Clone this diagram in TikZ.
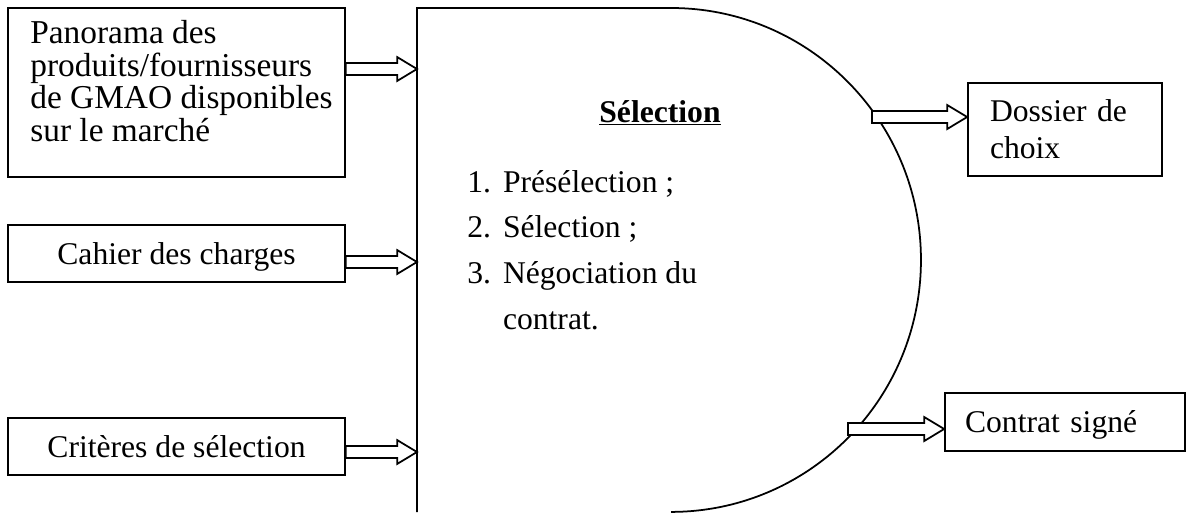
\documentclass[tikz,border=0pt]{standalone}
\usepackage{fontspec}
\setmainfont{Liberation Serif}
\usetikzlibrary{calc}

% hollow block arrow from the first point to the second (horizontal)
\newcommand{\blockarrow}[2]{%
  \draw[blk] let \p1=(#1), \p2=(#2) in
    (\x1,\y1+3.4pt) -- (\x2-11.3pt,\y1+3.4pt) -- (\x2-11.3pt,\y1+6.8pt) -- (\x2,\y1)
    -- (\x2-11.3pt,\y1-6.8pt) -- (\x2-11.3pt,\y1-3.4pt) -- (\x1,\y1-3.4pt) -- cycle;}

\tikzset{
  box/.style={draw, line width=1pt, inner sep=0pt},
  txt/.style={inner sep=0pt, font=\fontsize{18pt}{18.3pt}\selectfont},
  oneline/.style={text height=12.3pt, text depth=0pt},
  blk/.style={draw, line width=1pt, fill=white, line join=miter},
  outline/.style={draw, line width=1pt},
}

\begin{document}
\begin{tikzpicture}[x=0.02cm, y=0.02cm]
\useasboundingbox (0,0) rectangle (1192,512);

% central process shape: straight left side, top edge and half-ellipse
\draw[outline] (417,0) -- (417,504) -- (671,504)
  arc[start angle=90, end angle=-90, x radius=5cm, y radius=5.04cm];

% entry and exit points on the central shape
\coordinate (inA) at (417,443);
\coordinate (inB) at (417,250);
\coordinate (inC) at (417,60);
\coordinate (outD) at (872,395);
\coordinate (outC) at (848,83);

% inputs
\node[box, minimum width=6.74cm, minimum height=3.38cm] (pano) at (176.5,419.5) {};
\node[txt, anchor=north west, align=left, font=\fontsize{19pt}{18.6pt}\selectfont]
  (panotext) at (30,492)
  {Panorama des\\produits/fournisseurs\\de GMAO disponibles\\sur le marché};
\node[box, txt, oneline, minimum width=6.74cm, minimum height=1.14cm] (cahier) at (176.5,258.5)
  {Cahier des charges};
\node[box, txt, oneline, minimum width=6.74cm, minimum height=1.14cm] (crit) at (176.5,65.5)
  {Critères de sélection};

% outputs
\node[box, txt, minimum width=3.88cm, minimum height=1.86cm, text width=3.0cm,
  align=left, font=\fontsize{18pt}{21pt}\selectfont] (dossier) at (1065,382.5)
  {Dossier de\\choix};
\node[box, txt, oneline, minimum width=4.8cm, minimum height=1.16cm, text width=4.0cm,
  align=left] (contrat) at (1065,90) {Contrat signé};

% contents of the central shape
\node[txt, anchor=base] (titre) at (660,390) {\underline{\textbf{Sélection}}};
\node[txt, anchor=base west] (etapes) at (467,320)
  {\renewcommand{\arraystretch}{1.43}%
   \begin{tabular}[t]{@{}l@{\hspace{6.8pt}}l@{}}
   1. & Présélection ;\\
   2. & Sélection ;\\
   3. & Négociation du\\
      & contrat.
   \end{tabular}};

% arrows
\blockarrow{pano.east |- inA}{inA}
\blockarrow{cahier.east |- inB}{inB}
\blockarrow{crit.east |- inC}{inC}
\blockarrow{outD}{dossier.west |- outD}
\blockarrow{outC}{contrat.west |- outC}
\end{tikzpicture}
\end{document}
